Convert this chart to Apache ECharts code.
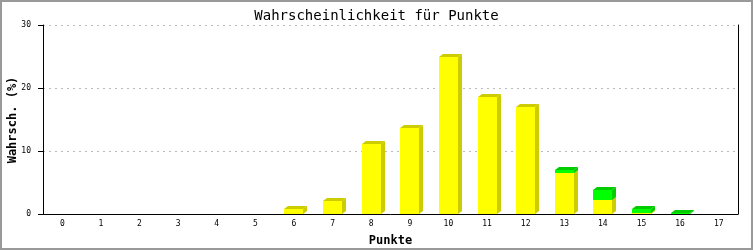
<!DOCTYPE html>
<html>
<head>
<meta charset="utf-8">
<script src="https://cdn.jsdelivr.net/npm/echarts@6/dist/echarts.min.js"></script>
<style>
html,body{margin:0;padding:0;background:#fff;}
#c{width:753px;height:250px;}
</style>
</head>
<body>
<div id="c"></div>
<script>
var categories = ['0','1','2','3','4','5','6','7','8','9','10','11','12','13','14','15','16','17'];
var yellowValues = [0,0,0,0,0,0,0.8,2.1,11.1,13.7,24.9,18.6,17.0,6.5,2.2,0.15,0,0];
var greenValues  = [0,0,0,0,0,0,0,0,0,0,0,0,0,0.5,1.6,0.65,0.2,0];
var yTicks = [0,10,20,30];

var chart = echarts.init(document.getElementById('c'), null, {renderer:'canvas'});

function makeData(vals, bases){
  return vals.map(function(v,i){ var b = bases ? bases[i] : 0; return [i, b, b + v]; });
}
var yellowData = makeData(yellowValues, null);
var greenData = makeData(greenValues, yellowValues);

function render3D(front, side, top){
  return function(params, api){
    var i = api.value(0), b = api.value(1), t = api.value(2);
    if (t - b <= 0) return null;
    var p0 = api.coord([i, b]);
    var p1 = api.coord([i, t]);
    var w = Math.round(api.size([1,0])[0] * 0.49);
    var x0 = Math.round(p0[0] - w/2);
    var x1 = x0 + w;
    var yb = Math.round(p0[1]);
    var yt = Math.round(p1[1]);
    var dx = 4, dy = 3;
    return {
      type:'group',
      children:[
        {type:'polygon', shape:{points:[[x1,yb],[x1,yt],[x1+dx,yt-dy],[x1+dx,yb-dy]]}, style:{fill:side}},
        {type:'polygon', shape:{points:[[x0,yt],[x0+dx,yt-dy],[x1+dx,yt-dy],[x1,yt]]}, style:{fill:top}},
        {type:'rect', shape:{x:x0, y:yt, width:w, height:yb-yt}, style:{fill:front}}
      ]
    };
  };
}

var mono = '"DejaVu Sans Mono", "Liberation Mono", monospace';

chart.setOption({
  animation:false,
  backgroundColor:'#ffffff',
  title:{
    text:'Wahrscheinlichkeit für Punkte',
    left:'center', top:4,
    textStyle:{fontFamily:mono, fontSize:14, fontWeight:'normal', color:'#000'}
  },
  grid:{left:43, right:15, top:25, bottom:36, containLabel:false, outerBoundsMode:'none'},
  xAxis:{
    type:'category', data:categories, boundaryGap:true,
    name:'Punkte', nameLocation:'middle', nameGap:21,
    nameTextStyle:{fontFamily:mono, fontSize:12, fontWeight:'bold', color:'#000'},
    axisLine:{lineStyle:{color:'#000', width:1}},
    axisTick:{show:false},
    axisLabel:{fontFamily:mono, fontSize:8, color:'#000', margin:6, interval:0},
    splitLine:{show:false}
  },
  yAxis:[{
    type:'value', min:yTicks[0], max:yTicks[yTicks.length-1], interval:10,
    axisLine:{show:true, lineStyle:{color:'#000', width:1}},
    axisTick:{show:true, length:5, lineStyle:{color:'#000'}},
    axisLabel:{fontFamily:mono, fontSize:8, color:'#000', margin:12},
    splitLine:{show:true, lineStyle:{color:'#bbbbbb', type:[2,4], width:1}}
  },{
    type:'value', min:yTicks[0], max:yTicks[yTicks.length-1], interval:10, position:'right',
    axisLine:{show:true, lineStyle:{color:'#000', width:1}},
    axisTick:{show:false}, axisLabel:{show:false}, splitLine:{show:false}
  }],
  graphic:[{
    type:'rect', shape:{x:1, y:1, width:751, height:248},
    style:{fill:'none', stroke:'#999999', lineWidth:2}, silent:true, z:100
  },{
    type:'text', x:13, y:120, rotation:Math.PI/2,
    style:{text:'Wahrsch. (%)', fontFamily:mono, fontSize:12, fontWeight:'bold', fill:'#000', align:'center', verticalAlign:'middle'},
    silent:true
  }],
  series:[
    {type:'custom', name:'gelb', renderItem:render3D('#ffff00','#cccc00','#cccc00'), encode:{x:0, y:[1,2]}, data:yellowData, z:2},
    {type:'custom', name:'grün', renderItem:render3D('#00ff00','#00cc00','#00cc00'), encode:{x:0, y:[1,2]}, data:greenData, z:3}
  ]
});
</script>
</body>
</html>
